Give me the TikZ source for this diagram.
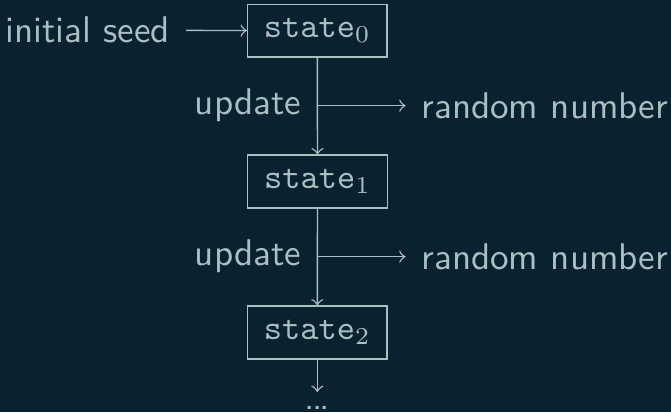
\documentclass[tikz,border=0pt]{standalone}
\usepackage{xcolor}
\definecolor{bgc}{HTML}{0A2130}
\definecolor{fgc}{HTML}{ABBFC2}
\usetikzlibrary{arrows}
\tikzset{
  statebox/.style={draw=fgc, line width=0.4pt, minimum width=40.2pt, minimum height=15.2pt, inner sep=0pt, text=fgc, font=\ttfamily},
  lbl/.style={text=fgc, font=\sffamily\fontsize{10.7}{13}\selectfont, inner xsep=4.4pt, inner ysep=0pt},
  conn/.style={draw=fgc, line width=0.4pt, ->}
}
\begin{document}
\begin{tikzpicture}[x=0.2882pt,y=-0.2882pt]
\fill[bgc] (0,0) rectangle (671,412);
\useasboundingbox (0,0) rectangle (671,412);
\node[statebox] (s0) at (317.3,30.7) {$\texttt{state}_0$};
\node[statebox] (s1) at (317.5,181.5) {$\texttt{state}_1$};
\node[statebox] (s2) at (317.3,332.5) {$\texttt{state}_2$};
\node[lbl, anchor=east] (seed) at (186,30.2) {initial seed};
\coordinate (b0) at (317.3,105.7);
\coordinate (b1) at (317.3,256.7);
\node[lbl, anchor=east] (u0) at (b0) {update};
\node[lbl, anchor=east] (u1) at (b1) {update};
\node[lbl, anchor=west] (r0) at (405.5,105.7) {random number};
\node[lbl, anchor=west] (r1) at (405.5,256.7) {random number};
\node[text=fgc, font=\sffamily\fontsize{10.7}{13}\selectfont, inner xsep=0pt, inner ysep=4pt, anchor=north] (dots) at (317.3,392) {.\kern-0.08em.\kern-0.08em.};
\draw[conn] (seed) -- (s0);
\draw[conn] (s0) -- (s1);
\draw[conn] (s1) -- (s2);
\draw[conn] (s2) -- (dots);
\draw[conn] (b0) -- (r0);
\draw[conn] (b1) -- (r1);
\end{tikzpicture}
\end{document}
